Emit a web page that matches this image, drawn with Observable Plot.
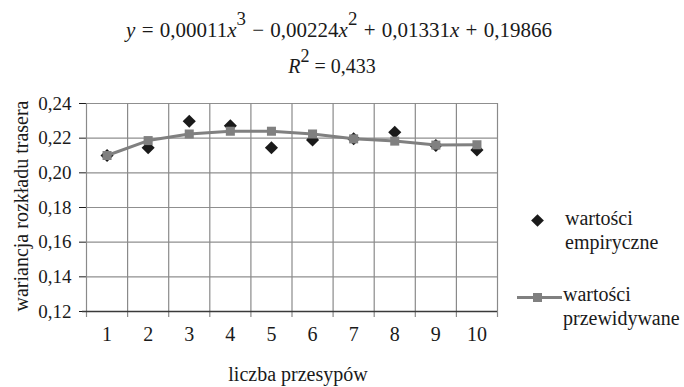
<!DOCTYPE html>
<html>
<head>
<meta charset="utf-8">
<script src="https://cdn.jsdelivr.net/npm/d3@7"></script>
<script src="https://cdn.jsdelivr.net/npm/@observablehq/plot@0.6"></script>
<style>
  body { margin: 0; background: #fff; }
  #wrap { position: relative; width: 684px; height: 387px; overflow: hidden; font-family: "Liberation Serif", "Times New Roman", serif; color: #1a1a1a; }
  #wrap svg { position: absolute; left: 0; top: 0; }
  .abs { position: absolute; white-space: nowrap; font-size: 20px; line-height: 20px; }
  .abs i { font-style: italic; }
  .abs sup { font-size: 90%; vertical-align: 0.62em; line-height: 0; }
  #ylab { left: -109px; top: 195px; width: 260px; height: 22px; line-height: 22px; text-align: center; transform: rotate(-90deg); }
  .leg { line-height: 24px; }
</style>
</head>
<body>
<div id="wrap">
  <div class="abs" id="eq1" style="left:0;top:19px;width:678px;text-align:center;font-size:21px;word-spacing:1px;"><i>y</i> = 0,00011<i>x</i><sup>3</sup> − 0,00224<i>x</i><sup>2</sup> + 0,01331<i>x</i> + 0,19866</div>
  <div class="abs" id="eq2" style="left:0;top:56px;width:664px;text-align:center;"><i>R</i><sup>2</sup> = 0,433</div>
  <div class="abs" id="xlab" style="left:198px;top:364px;width:200px;text-align:center;">liczba przesypów</div>
  <div class="abs" id="ylab">wariancja rozkładu trasera</div>
  <div style="position:absolute;left:532.5px;top:215.5px;width:9px;height:9px;background:#1a1a1a;transform:rotate(45deg);"></div>
  <div class="abs leg" style="left:565px;top:206px;">wartości<br>empiryczne</div>
  <div style="position:absolute;left:517px;top:295.5px;width:45px;height:3px;background:#808080;"></div>
  <div style="position:absolute;left:533px;top:292.5px;width:9px;height:9px;background:#808080;"></div>
  <div class="abs leg" style="left:563px;top:282px;">wartości<br>przewidywane</div>
</div>
<script>
// Data
const categories = [1, 2, 3, 4, 5, 6, 7, 8, 9, 10];
const empirical = [0.2100, 0.2145, 0.2298, 0.2272, 0.2145, 0.2190, 0.2197, 0.2234, 0.2158, 0.2132];
const predicted = [0.2100, 0.2186, 0.2224, 0.2240, 0.2240, 0.2224, 0.2196, 0.2183, 0.2160, 0.2162];
const yTicks = [0.12, 0.14, 0.16, 0.18, 0.20, 0.22, 0.24];

const rows = categories.map((c, i) => ({x: c, emp: empirical[i], pred: predicted[i]}));
const boundaries = [categories[0] - 0.5, ...categories.map(c => c + 0.5)];
const fmt = d => d.toFixed(2).replace(".", ",");

const chart = Plot.plot({
  width: 684,
  height: 387,
  marginLeft: 86,
  marginRight: 187,
  marginTop: 103,
  marginBottom: 76,
  style: {fontFamily: "Liberation Serif, serif", fontSize: "19px", color: "#1a1a1a", background: "transparent"},
  x: {domain: [boundaries[0], boundaries[boundaries.length - 1]], axis: null},
  y: {domain: [0.12, 0.24], ticks: yTicks, tickSize: 7, tickPadding: 8, tickFormat: fmt, label: null},
  marks: [
    Plot.ruleY(yTicks.slice(1), {stroke: "#8f8f8f", strokeWidth: 1.2}),
    Plot.ruleX(boundaries, {stroke: "#8a8a8a", strokeWidth: 1.2, insetBottom: -6}),
    Plot.ruleY([0.12], {stroke: "#3a3a3a", strokeWidth: 1.3, insetLeft: -4}),
    Plot.dot(rows, {x: "x", y: "emp", symbol: "diamond2", r: 5.9, fill: "#1a1a1a", stroke: null}),
    Plot.line(rows, {x: "x", y: "pred", stroke: "#808080", strokeWidth: 3}),
    Plot.dot(rows, {x: "x", y: "pred", symbol: "square", r: 5.1, fill: "#808080", stroke: null}),
    Plot.text(categories, {x: d => d, text: d => String(d), frameAnchor: "bottom", dy: 29, fontSize: 20, fill: "#1a1a1a"})
  ]
});
document.getElementById("wrap").prepend(chart);
</script>
</body>
</html>
